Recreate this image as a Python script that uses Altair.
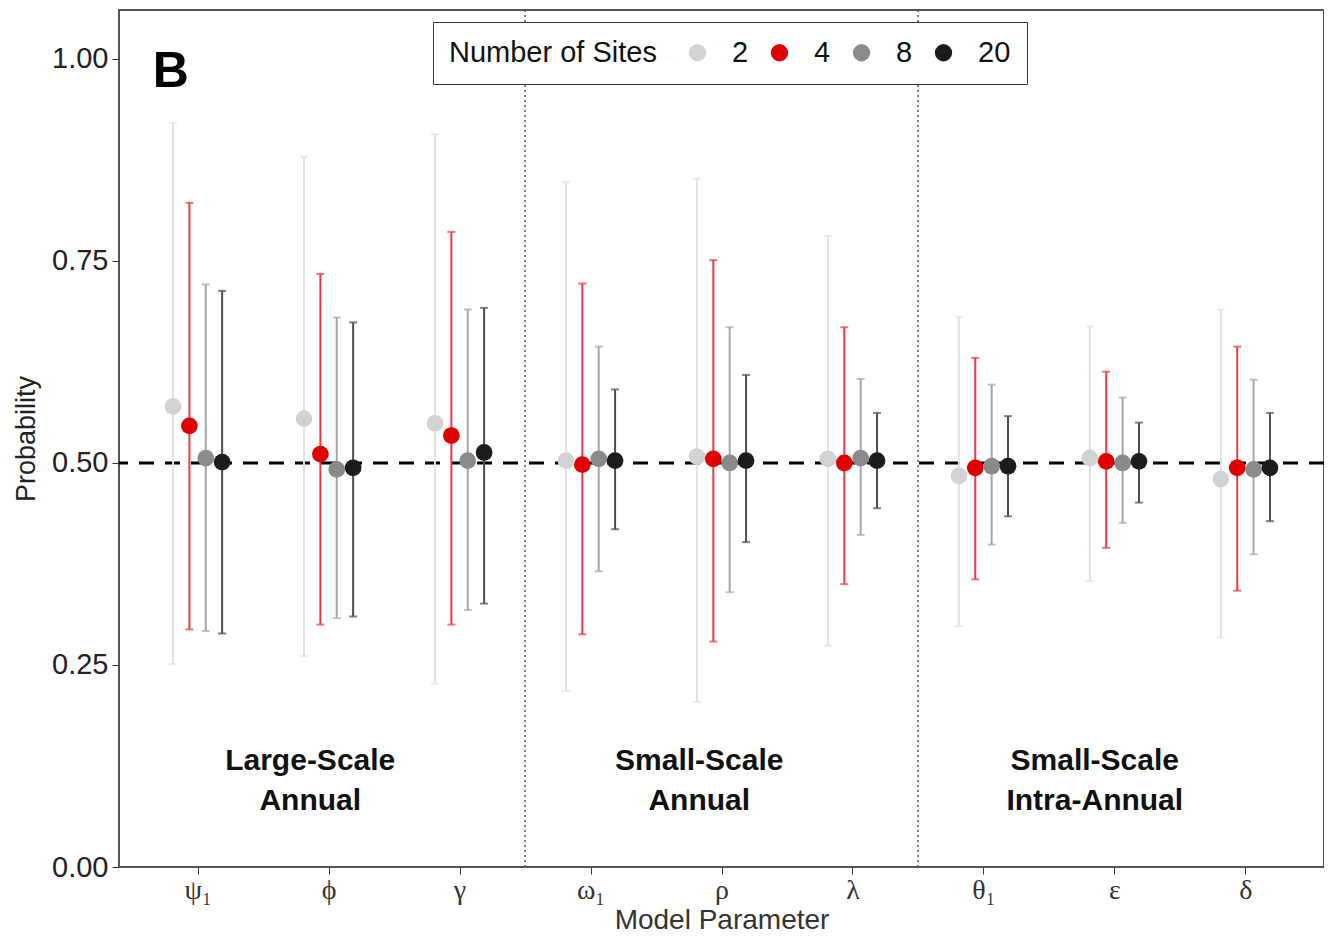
import altair as alt
import pandas as pd

# ---------------- data ----------------
params = ["ψ₁", "ϕ", "γ", "ω₁", "ρ", "λ", "θ₁", "ε", "δ"]
sites = ["2", "4", "8", "20"]

est_2 = [0.570, 0.555, 0.549, 0.503, 0.508, 0.505, 0.484, 0.506, 0.480]
est_4 = [0.546, 0.511, 0.534, 0.498, 0.505, 0.500, 0.494, 0.502, 0.494]
est_8 = [0.506, 0.492, 0.503, 0.505, 0.500, 0.506, 0.496, 0.500, 0.492]
est_20 = [0.501, 0.494, 0.513, 0.503, 0.503, 0.503, 0.496, 0.502, 0.494]

low_2 = [0.251, 0.261, 0.227, 0.218, 0.204, 0.274, 0.298, 0.354, 0.284]
low_4 = [0.294, 0.300, 0.300, 0.288, 0.279, 0.350, 0.356, 0.395, 0.342]
low_8 = [0.292, 0.308, 0.318, 0.366, 0.340, 0.411, 0.399, 0.426, 0.387]
low_20 = [0.289, 0.310, 0.326, 0.418, 0.402, 0.444, 0.434, 0.451, 0.428]

up_2 = [0.921, 0.879, 0.907, 0.848, 0.852, 0.781, 0.681, 0.669, 0.690]
up_4 = [0.822, 0.734, 0.786, 0.722, 0.751, 0.668, 0.630, 0.613, 0.644]
up_8 = [0.721, 0.680, 0.690, 0.644, 0.668, 0.604, 0.597, 0.581, 0.603]
up_20 = [0.713, 0.674, 0.692, 0.591, 0.609, 0.562, 0.558, 0.550, 0.562]

group_labels = ["Large-Scale\nAnnual", "Small-Scale\nAnnual", "Small-Scale\nIntra-Annual"]
group_label_x = [1.86, 4.83, 7.85]
group_label_y = [0.131, 0.131, 0.131]
separators = [3.5, 6.5]
reference_level = [0.5]
panel_tag = ["B"]
panel_tag_x = [0.795]
panel_tag_y = [0.984]

# ---------------- styling ----------------
dodge = [-0.1875, -0.0625, 0.0625, 0.1875]
point_colors = ["#d2d2d2", "#e00000", "#8a8a8a", "#1c1c1c"]
bar_colors = ["#e2e2e2", "#ee3a44", "#a6a6a6", "#4d4d4d"]
SANS = "Liberation Sans"

est = [est_2, est_4, est_8, est_20]
low = [low_2, low_4, low_8, low_20]
up = [up_2, up_4, up_8, up_20]

rows = []
for g, s in enumerate(sites):
    for i, p in enumerate(params):
        rows.append({
            "site": s, "order": g, "param": p,
            "x": i + 1 + dodge[g],
            "est": est[g][i], "low": low[g][i], "up": up[g][i],
            "barcolor": bar_colors[g],
        })
df = pd.DataFrame(rows)

xscale = alt.Scale(domain=[0.4, 9.6], nice=False, zero=False)
yscale = alt.Scale(domain=[0, 1.0606], nice=False, zero=False)

label_array = "[" + ",".join("'" + p + "'" for p in params) + "]"
xaxis = alt.Axis(values=list(range(1, 10)), labelExpr=label_array + "[datum.value - 1]",
                 title="Model Parameter", labelFont="Liberation Serif", labelFontSize=28,
                 labelColor="#333", titleFont=SANS, titleFontSize=28, titleFontWeight="normal",
                 titleColor="#333", tickSize=7, tickColor="#333", labelPadding=2,
                 titleY=61, titleBaseline="alphabetic", domain=False, grid=False)
yaxis = alt.Axis(values=[0, 0.25, 0.5, 0.75, 1.0], format=".2f", title="Probability",
                 labelFont=SANS, labelFontSize=29, labelColor="#222", titleFont=SANS,
                 titleFontSize=27, titleFontWeight="normal", titleColor="#222",
                 tickSize=7, tickColor="#333", labelPadding=4, titlePadding=11,
                 domain=False, grid=False)

base = alt.Chart(df)

bars = base.mark_rule(strokeWidth=2).encode(
    x=alt.X("x:Q", scale=xscale, axis=xaxis),
    y=alt.Y("low:Q", scale=yscale, axis=yaxis),
    y2="up:Q",
    color=alt.Color("barcolor:N", scale=None),
    order="order:Q",
)
caps_low = base.mark_tick(orient="horizontal", size=8, thickness=2).encode(
    x=alt.X("x:Q", scale=xscale), y=alt.Y("low:Q", scale=yscale),
    color=alt.Color("barcolor:N", scale=None),
)
caps_up = base.mark_tick(orient="horizontal", size=8, thickness=2).encode(
    x=alt.X("x:Q", scale=xscale), y=alt.Y("up:Q", scale=yscale),
    color=alt.Color("barcolor:N", scale=None),
)

hline = alt.Chart(pd.DataFrame({"y": reference_level})).mark_rule(
    color="black", strokeWidth=3, strokeDash=[15, 11]
).encode(y=alt.Y("y:Q", scale=yscale))

vlines = alt.Chart(pd.DataFrame({"x": separators})).mark_rule(
    color="#555", strokeWidth=1.5, strokeDash=[2, 3]
).encode(x=alt.X("x:Q", scale=xscale))

points = base.mark_point(filled=True, shape="circle", size=280, opacity=1, fillOpacity=1).encode(
    x=alt.X("x:Q", scale=xscale),
    y=alt.Y("est:Q", scale=yscale),
    opacity=alt.value(1),
    color=alt.Color("site:N", sort=sites,
                    scale=alt.Scale(domain=sites, range=point_colors),
                    legend=alt.Legend(
                        title="Number of Sites", orient="none", legendX=314, legendY=12,
                        direction="horizontal", titleOrient="left", titleAnchor="middle",
                        titleBaseline="middle", titleLimit=500, labelLimit=200,
                        strokeColor="#333", fillColor="white", padding=16,
                        titleFont=SANS, titleFontSize=29, titleFontWeight="normal",
                        titleColor="#111", titlePadding=26,
                        labelFont=SANS, labelFontSize=29, labelColor="#111",
                        labelOffset=20, columnPadding=16, symbolOpacity=1,
                        symbolType="circle", symbolSize=300, symbolStrokeWidth=0)),
    order="order:Q",
)

labels = alt.Chart(pd.DataFrame({"x": group_label_x, "y": group_label_y, "t": group_labels})).mark_text(
    font=SANS, fontSize=30, fontWeight="bold", color="#111", lineBreak="\n",
    lineHeight=40, baseline="middle", align="center"
).encode(x=alt.X("x:Q", scale=xscale), y=alt.Y("y:Q", scale=yscale), text="t:N")

tag = alt.Chart(pd.DataFrame({"x": panel_tag_x, "y": panel_tag_y, "t": panel_tag})).mark_text(
    font=SANS, fontSize=50, fontWeight="bold", color="black", baseline="middle", align="center"
).encode(x=alt.X("x:Q", scale=xscale), y=alt.Y("y:Q", scale=yscale), text="t:N")

chart = alt.layer(vlines, hline, bars, caps_low, caps_up, points, labels, tag).properties(
    width=1205, height=857,
    autosize=alt.AutoSizeParams(type="none"),
    padding={"left": 111, "top": 2, "right": 0, "bottom": 68},
    background="white",
).configure_view(stroke="#555", strokeWidth=2).configure_legend(symbolOpacity=1)

chart.save("out.html", embed_options={"renderer": "svg", "actions": False})
